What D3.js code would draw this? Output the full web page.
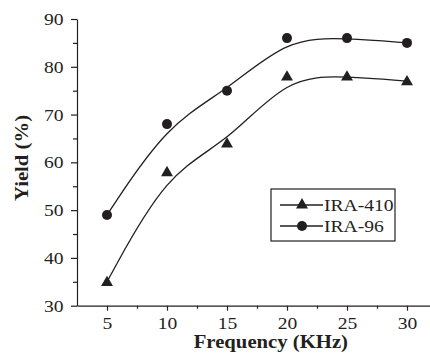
<!DOCTYPE html>
<html>
<head>
<meta charset="utf-8">
<script src="https://cdn.jsdelivr.net/npm/d3@7"></script>
<style>
  body { margin: 0; background: #fff; }
</style>
</head>
<body>
<script>
const frequencies = [5, 10, 15, 20, 25, 30];
const ira410 = [35, 58, 64, 78, 78, 77];
const ira96 = [49, 68, 75, 86, 86, 85];
const xTicks = [5, 10, 15, 20, 25, 30];
const yTicks = [30, 40, 50, 60, 70, 80, 90];

const width = 430, height = 361;
const ink = '#231f20';
const serif = '"Liberation Serif"';
const sx = 1.12; // text in the source is a bit wide

const svg = d3.select('body')
    .append('svg')
    .attr('width', width)
    .attr('height', height);

const x = d3.scaleLinear().domain([2.5, 32.5]).range([77, 437]);
const y = d3.scaleLinear().domain([30, 90]).range([305.7, 19]);

// minor ticks first, then the main axes
svg.append('g')
    .attr('transform', 'translate(0,305.7)')
    .call(d3.axisBottom(x).tickValues([7.5, 12.5, 17.5, 22.5, 27.5]).tickSize(3).tickFormat(''))
    .call(g => g.select('.domain').remove());

svg.append('g')
    .attr('transform', 'translate(77,0)')
    .call(d3.axisLeft(y).tickValues([35, 45, 55, 65, 75, 85]).tickSize(4).tickFormat(''))
    .call(g => g.select('.domain').remove());

const xAxis = svg.append('g')
    .attr('transform', 'translate(0,305.7)')
    .call(d3.axisBottom(x).tickValues(xTicks).tickSize(5).tickSizeOuter(0).tickPadding(6));

const yAxis = svg.append('g')
    .attr('transform', 'translate(77,0)')
    .call(d3.axisLeft(y).tickValues(yTicks).tickSize(6).tickSizeOuter(0).tickPadding(6));

svg.selectAll('.tick line, .domain').attr('stroke', ink).attr('stroke-width', 1.2);
svg.selectAll('.tick text')
    .style('font-family', serif)
    .style('font-size', '17.5px')
    .attr('fill', ink);
xAxis.selectAll('.tick text').attr('transform', `scale(${sx},1)`);
yAxis.selectAll('.tick text').attr('transform', `scale(${sx},1)`);

// axis titles
svg.append('text')
    .attr('transform', `translate(${(191.7 + 350) / 2},348) scale(${sx},1)`)
    .attr('text-anchor', 'middle')
    .style('font-family', serif)
    .style('font-weight', 'bold')
    .style('font-size', '18.5px')
    .attr('fill', ink)
    .text('Frequency (KHz)');

svg.append('text')
    .attr('transform', `translate(28,158) rotate(-90) scale(${sx},1)`)
    .attr('text-anchor', 'middle')
    .style('font-family', serif)
    .style('font-weight', 'bold')
    .style('font-size', '18.5px')
    .attr('fill', ink)
    .text('Yield (%)');

// smoothed curves
const line = d3.line()
    .x((d, i) => x(frequencies[i]))
    .y(d => y(d))
    .curve(d3.curveBasis);

[ira410, ira96].forEach(s => {
    svg.append('path')
        .datum(s)
        .attr('fill', 'none')
        .attr('stroke', ink)
        .attr('stroke-width', 1.3)
        .attr('d', line);
});

const tri = d3.symbol().type(d3.symbolTriangle).size(62);

svg.selectAll('.tri')
    .data(ira410)
    .enter()
    .append('path')
    .attr('class', 'tri')
    .attr('transform', (d, i) => `translate(${x(frequencies[i])},${y(d) + 0.8})`)
    .attr('d', tri)
    .attr('fill', ink);

svg.selectAll('.dot')
    .data(ira96)
    .enter()
    .append('circle')
    .attr('class', 'dot')
    .attr('cx', (d, i) => x(frequencies[i]))
    .attr('cy', d => y(d))
    .attr('r', 5)
    .attr('fill', ink);

// legend
const legend = svg.append('g');
legend.append('rect')
    .attr('x', 271).attr('y', 189)
    .attr('width', 124).attr('height', 52)
    .attr('fill', '#fff')
    .attr('stroke', ink)
    .attr('stroke-width', 1.2);

const entries = [
    { name: 'IRA-410', shape: 'tri', cy: 205 },
    { name: 'IRA-96', shape: 'dot', cy: 226 }
];

entries.forEach(e => {
    legend.append('line')
        .attr('x1', 280).attr('x2', 323)
        .attr('y1', e.cy).attr('y2', e.cy)
        .attr('stroke', ink)
        .attr('stroke-width', 1.3);
    if (e.shape === 'tri') {
        legend.append('path')
            .attr('transform', `translate(302,${e.cy})`)
            .attr('d', tri)
            .attr('fill', ink);
    } else {
        legend.append('circle')
            .attr('cx', 302).attr('cy', e.cy).attr('r', 5)
            .attr('fill', ink);
    }
    legend.append('text')
        .attr('transform', `translate(324,${e.cy + 6}) scale(${sx},1)`)
        .style('font-family', serif)
        .style('font-size', '17.5px')
        .attr('fill', ink)
        .text(e.name);
});
</script>
</body>
</html>
